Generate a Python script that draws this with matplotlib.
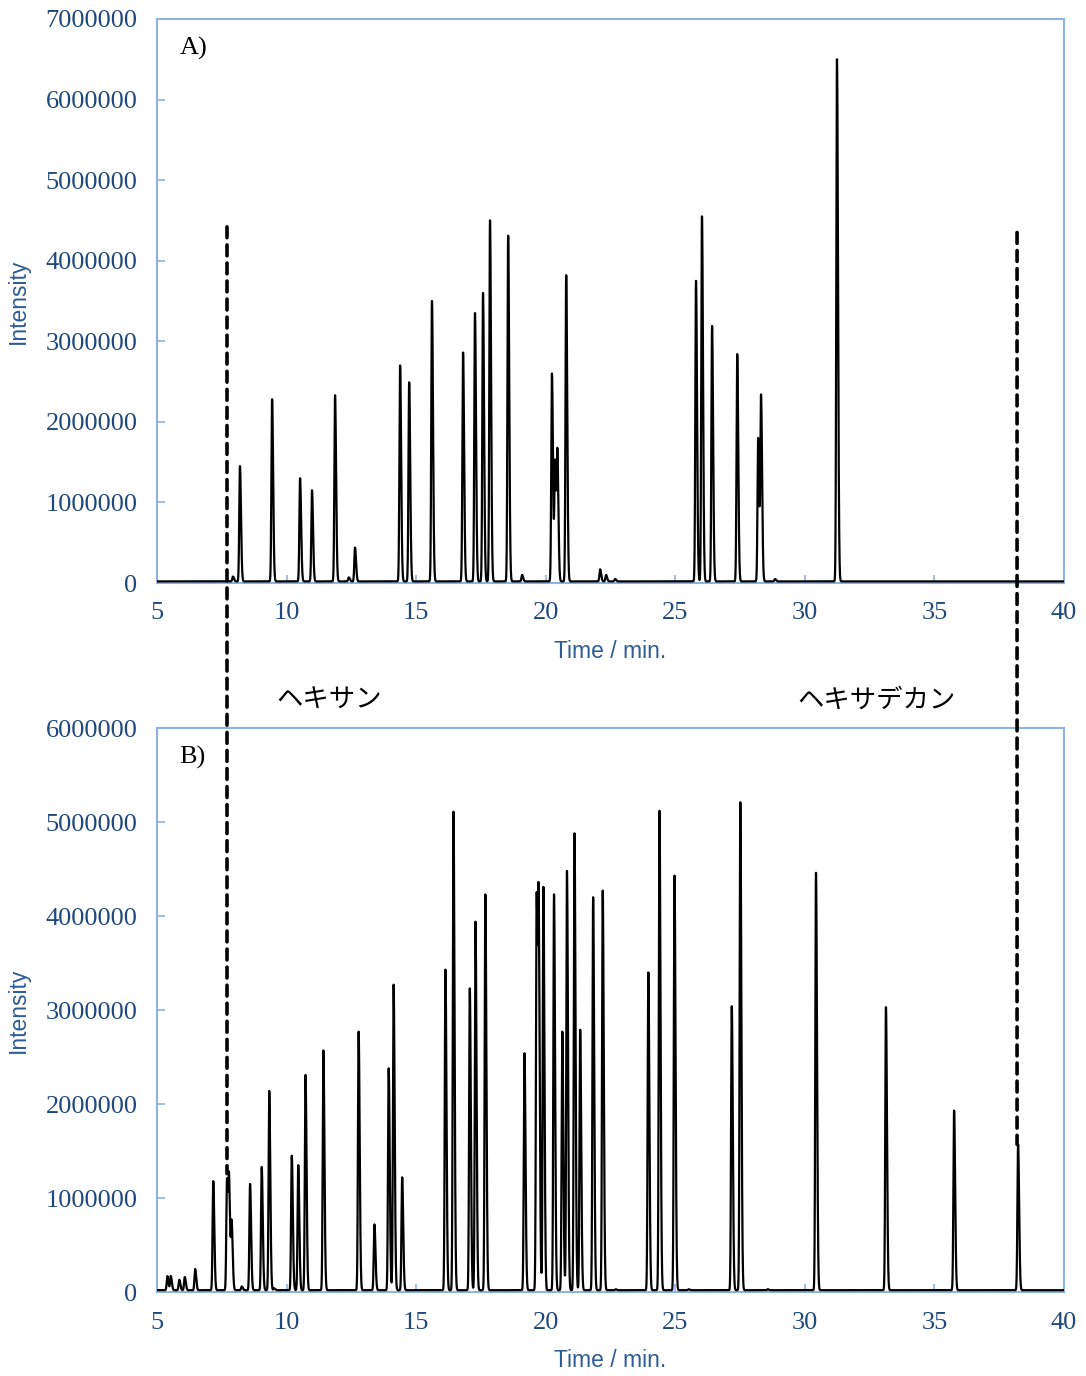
import numpy as np
import matplotlib
matplotlib.use('Agg')
import matplotlib.pyplot as plt
from matplotlib.patches import ConnectionPatch

# peak retention times (min) and heights (counts)
a_times = [7.93, 8.20, 9.44, 10.52, 10.98, 11.87, 12.40, 12.64, 14.38, 14.73,
           15.61, 16.81, 17.27, 17.58, 17.85, 18.55, 19.09, 20.24, 20.36, 20.45,
           20.79, 22.10, 22.33, 22.68, 25.80, 26.03, 26.42, 27.39, 28.20, 28.31,
           28.85, 31.24]
a_heights = [0.08e6, 1.45e6, 2.28e6, 1.30e6, 1.15e6, 2.33e6, 0.07e6, 0.44e6, 2.70e6, 2.49e6,
             3.50e6, 2.86e6, 3.35e6, 3.60e6, 4.50e6, 4.31e6, 0.10e6, 2.60e6, 1.50e6, 1.55e6,
             3.82e6, 0.17e6, 0.10e6, 0.05e6, 3.75e6, 4.55e6, 3.19e6, 2.84e6, 1.80e6, 2.30e6,
             0.05e6, 6.50e6]

b_times = [5.40, 5.53, 5.86, 6.07, 6.47, 7.17, 7.70, 7.78, 7.88, 8.27,
           8.59, 9.04, 9.33, 9.52, 10.20, 10.45, 10.73, 11.42, 12.78, 13.39,
           13.94, 14.13, 14.46, 16.13, 16.44, 17.07, 17.29, 17.67, 19.18, 19.65,
           19.73, 19.91, 20.32, 20.64, 20.82, 21.11, 21.33, 21.83, 22.20, 22.70,
           23.96, 24.39, 24.97, 25.52, 27.18, 27.51, 28.57, 30.43, 33.13, 35.76,
           38.23]
b_heights = [0.17e6, 0.17e6, 0.13e6, 0.16e6, 0.245e6, 1.18e6, 1.20e6, 1.10e6, 0.72e6, 0.06e6,
             1.15e6, 1.33e6, 2.14e6, 0.04e6, 1.45e6, 1.35e6, 2.31e6, 2.57e6, 2.77e6, 0.72e6,
             2.38e6, 3.27e6, 1.22e6, 3.43e6, 5.11e6, 3.23e6, 3.94e6, 4.23e6, 2.54e6, 4.22e6,
             3.70e6, 4.31e6, 4.23e6, 2.77e6, 4.48e6, 4.88e6, 2.79e6, 4.20e6, 4.27e6, 0.03e6,
             3.40e6, 5.12e6, 4.43e6, 0.03e6, 3.04e6, 5.21e6, 0.03e6, 4.46e6, 3.03e6, 1.93e6,
             1.57e6]

a_baseline = 0.02e6
b_baseline = 0.02e6

a_yticks = [0, 1000000, 2000000, 3000000, 4000000, 5000000, 6000000, 7000000]
b_yticks = [0, 1000000, 2000000, 3000000, 4000000, 5000000, 6000000]
xticks = [5, 10, 15, 20, 25, 30, 35, 40]

# dashed marker lines: (time, height in A, height in B)
markers = [(7.70, 4.42e6, 1.26e6), (38.19, 4.35e6, 1.57e6)]
marker_names = [(9.6, 'ヘキサン'), (29.7, 'ヘキサデカン')]

SPINE = '#8db3e2'
TICKC = '#1f497d'
LABELC = '#2e5c99'


def trace(t, times, heights, base):
    # render each peak as a narrow, slightly tailing gaussian
    y = np.full_like(t, base)
    for rt, h in zip(times, heights):
        sig = np.where(t < rt, 0.026, 0.040)
        y += (h - base) * np.exp(-0.5 * ((t - rt) / sig) ** 2)
    return y


t = np.arange(5, 40.001, 0.002)

fig = plt.figure(figsize=(10.86, 13.76), dpi=100)
ax1 = fig.add_axes([0.1446, 0.5763, 0.8351, 0.4099])
ax2 = fig.add_axes([0.1446, 0.0610, 0.8351, 0.4099])

panels = [(ax1, a_times, a_heights, a_baseline, a_yticks, 'A)'),
          (ax2, b_times, b_heights, b_baseline, b_yticks, 'B)')]

for ax, times, heights, base, yt, tag in panels:
    ax.plot(t, trace(t, times, heights, base), color='black', lw=1.6, zorder=3)
    ax.set_xlim(5, 40)
    ax.set_ylim(0, yt[-1])
    ax.set_xticks(xticks)
    ax.set_yticks(yt)
    ax.set_yticklabels([str(v) for v in yt])
    for s in ax.spines.values():
        s.set_color(SPINE)
        s.set_linewidth(1.5)
    ax.tick_params(direction='in', color=SPINE, length=6, width=1.2,
                   labelcolor=TICKC, labelsize=19, pad=14)
    for lab in ax.get_xticklabels() + ax.get_yticklabels():
        lab.set_family('Liberation Serif')
    ax.set_xlabel('Time / min.', fontsize=16.5, color=LABELC,
                  family='Liberation Sans', labelpad=11)
    ax.set_ylabel('Intensity', fontsize=16.5, color=LABELC,
                  family='Liberation Sans', labelpad=11)
    ax.text(0.025, 0.948, tag, transform=ax.transAxes, fontsize=19,
            family='Liberation Serif', va='center', ha='left')

for x, ya, yb in markers:
    con = ConnectionPatch(xyA=(x, ya), coordsA=ax1.transData,
                          xyB=(x, yb), coordsB=ax2.transData,
                          color='black', lw=2.6, linestyle=(0, (3, 2)))
    fig.add_artist(con)

for x, name in marker_names:
    ax2.text(x, 6.30e6, name, fontsize=19, family=['Noto Sans CJK JP', 'DejaVu Sans'],
             va='center', ha='left', clip_on=False)

fig.savefig('out.png', dpi=100)
